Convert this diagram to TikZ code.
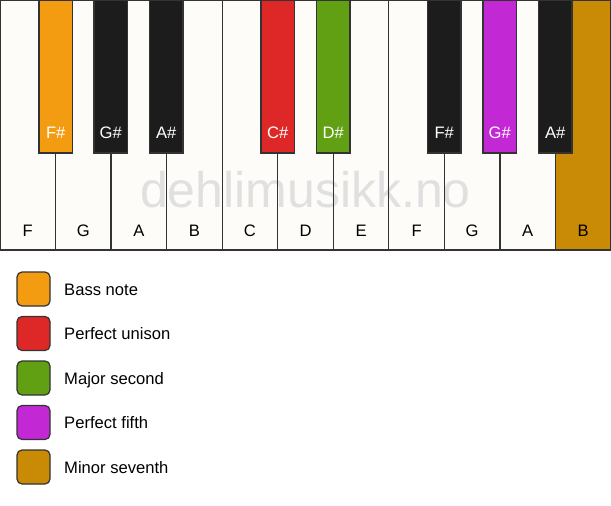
\documentclass[tikz,border=0pt]{standalone}
\usepackage{fontspec}
\setmainfont{Liberation Sans}
\definecolor{keywhite}{HTML}{FDFCF9}
\definecolor{keyblack}{HTML}{1C1C1C}
\definecolor{keyedge}{HTML}{333333}
\definecolor{bass}{HTML}{F39C12}
\definecolor{unison}{HTML}{DE2828}
\definecolor{second}{HTML}{60A012}
\definecolor{fifth}{HTML}{C228D4}
\definecolor{seventh}{HTML}{C98A05}
\definecolor{mark}{HTML}{E0E0E0}
\tikzset{
  keyline/.style={draw=keyedge,line width=1.3pt},
  legendbox/.style={draw=keyedge,line width=1.2pt,rounded corners=5pt},
}
\begin{document}
\begin{tikzpicture}[x=1pt,y=-1pt,font=\fontsize{16.6}{20}\selectfont]
\useasboundingbox (0,0) rectangle (611,506);
% White keys
\fill[keywhite] (0,0) rectangle (611,250);
\fill[seventh] (555.45,0) rectangle (611,250);
\node[text=mark,font=\fontsize{50}{60}\selectfont,anchor=base] (wm) at (305.5,207) {dehlimusikk.no};
\foreach \i in {1,...,10}
  \draw[keyline] ({\i*55.545},0) -- ({\i*55.545},250);
\draw[keyline] (0,0) rectangle (611,250);
\foreach \n/\name [count=\i from 0] in {F/F1,G/G1,A/A1,B/B1,C/C1,D/D1,E/E1,F/F2,G/G2,A/A2,B/B2}
  \node[anchor=base] (w\name) at ({(\i+0.5)*55.545},236) {\n};

% Black keys
\foreach \x/\c/\n/\name in {39/bass/F/Fs1,94/keyblack/G/Gs1,149.5/keyblack/A/As1,
    261/unison/C/Cs1,316.5/second/D/Ds1,
    427.5/keyblack/F/Fs2,483/fifth/G/Gs2,538.5/keyblack/A/As2}
{
  \filldraw[keyline,fill=\c] (\x,0) rectangle ++(33.5,153);
  \node[anchor=base,text=white] (b\name) at (\x+16.75,138) {\n\#};
}

% Legend
\foreach \c/\t [count=\i from 0] in {bass/Bass note,unison/Perfect unison,second/Major second,fifth/Perfect fifth,seventh/Minor seventh}
{
  \filldraw[legendbox,fill=\c] (17,{272+\i*44.5}) rectangle ++(33,34);
  \node[anchor=base west] (l\i) at (60.7,{295+\i*44.5}) {\t};
}
\end{tikzpicture}
\end{document}
